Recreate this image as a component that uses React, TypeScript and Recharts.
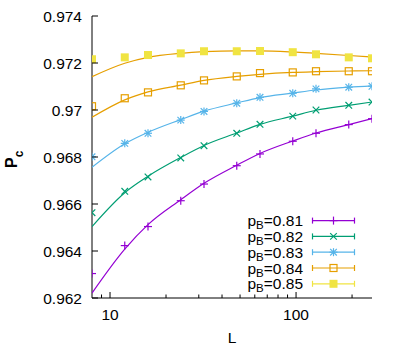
import React from 'react';
import { ComposedChart, Scatter, XAxis, YAxis, Legend } from 'recharts';

const L = [8, 12, 16, 24, 32, 48, 64, 96, 128, 192, 256];
const pBLabels = ['0.81', '0.82', '0.83', '0.84', '0.85'];

const p081 = [0.96304, 0.96423, 0.96504, 0.96614, 0.96685, 0.96763, 0.96813, 0.96867, 0.96901, 0.96938, 0.96963];
const p082 = [0.96563, 0.96654, 0.96715, 0.96796, 0.96848, 0.96901, 0.96939, 0.96974, 0.97000, 0.97020, 0.97034];
const p083 = [0.96801, 0.96858, 0.96901, 0.96957, 0.96994, 0.97029, 0.97054, 0.97071, 0.97090, 0.97097, 0.97101];
const p084 = [0.97016, 0.97050, 0.97075, 0.97105, 0.97126, 0.97143, 0.97157, 0.97160, 0.97165, 0.97165, 0.97165];
const p085 = [0.97216, 0.97224, 0.97234, 0.97241, 0.97250, 0.97250, 0.97251, 0.97246, 0.97237, 0.97224, 0.97220];

const fit081 = [0.96221, 0.96408, 0.96512, 0.96618, 0.96688, 0.96765, 0.96815, 0.96868, 0.96902, 0.96938, 0.96963];
const fit082 = [0.96504, 0.96648, 0.96718, 0.96798, 0.96849, 0.96902, 0.96939, 0.96974, 0.96999, 0.97020, 0.97034];
const fit083 = [0.96756, 0.96856, 0.96905, 0.96959, 0.96995, 0.97030, 0.97053, 0.97072, 0.97085, 0.97097, 0.97103];
const fit084 = [0.96969, 0.97043, 0.97077, 0.97106, 0.97126, 0.97143, 0.97152, 0.97160, 0.97163, 0.97166, 0.97167];
const fit085 = [0.97142, 0.97199, 0.97224, 0.97241, 0.97248, 0.97252, 0.97252, 0.97247, 0.97241, 0.97232, 0.97225];

const xTicks = [9, 10, 20, 30, 40, 50, 60, 70, 80, 90, 100, 200];
const xMajorTicks = [10, 100];
const yTicks = [0.962, 0.964, 0.966, 0.968, 0.97, 0.972, 0.974];

const FONT = '"Liberation Sans", Arial, Helvetica, sans-serif';

const colors = ['#9400d3', '#009e73', '#56b4e9', '#e69f00', '#f0e442'];
const fitColors = ['#9400d3', '#009e73', '#56b4e9', '#e69f00', '#e69f00'];
const markerKinds = ['plus', 'cross', 'star', 'openSquare', 'filledSquare'];

const pointSeries = [p081, p082, p083, p084, p085];
const fitSeries = [fit081, fit082, fit083, fit084, fit085];

const toRows = (vals: number[]) => L.map((l, i) => ({ L: l, P: vals[i] }));

function Marker({ kind, cx, cy, color }: { kind: string; cx: number; cy: number; color: string }) {
  const s = 4;
  if (kind === 'plus') {
    return (
      <g stroke={color} strokeWidth={1.2}>
        <line x1={cx - s} x2={cx + s} y1={cy} y2={cy} />
        <line x1={cx} x2={cx} y1={cy - s} y2={cy + s} />
      </g>
    );
  }
  if (kind === 'cross') {
    const d = 3.3;
    return (
      <g stroke={color} strokeWidth={1.2}>
        <line x1={cx - d} x2={cx + d} y1={cy - d} y2={cy + d} />
        <line x1={cx - d} x2={cx + d} y1={cy + d} y2={cy - d} />
      </g>
    );
  }
  if (kind === 'star') {
    const d = 3.3;
    return (
      <g stroke={color} strokeWidth={1.2}>
        <line x1={cx - s} x2={cx + s} y1={cy} y2={cy} />
        <line x1={cx} x2={cx} y1={cy - s} y2={cy + s} />
        <line x1={cx - d} x2={cx + d} y1={cy - d} y2={cy + d} />
        <line x1={cx - d} x2={cx + d} y1={cy + d} y2={cy - d} />
      </g>
    );
  }
  if (kind === 'openSquare') {
    return <rect x={cx - 3.5} y={cy - 3.5} width={7} height={7} fill="none" stroke={color} strokeWidth={1.2} />;
  }
  return <rect x={cx - 4} y={cy - 4} width={8} height={8} fill={color} />;
}

const makeShape = (kind: string, color: string) => (props: any) => {
  const { cx, cy } = props;
  if (cx == null || cy == null) return <g />;
  return <Marker kind={kind} cx={cx} cy={cy} color={color} />;
};

const emptyShape = () => <g />;

const fmtY = (v: number) => String(Number(v.toFixed(3)));

const XTickBottom = (props: any) => {
  const { x, y, payload } = props;
  const major = xMajorTicks.includes(payload.value);
  return (
    <g>
      <line x1={x} x2={x} y1={y} y2={y - (major ? 6 : 3.5)} stroke="#000" strokeWidth={1} />
      {major && (
        <text x={x} y={y + 22} textAnchor="middle" fontFamily={FONT} fontSize={15.5} fill="#000">
          {payload.value}
        </text>
      )}
    </g>
  );
};

const XTickTop = (props: any) => {
  const { x, y, payload } = props;
  const major = xMajorTicks.includes(payload.value);
  return <line x1={x} x2={x} y1={y} y2={y + (major ? 6 : 3.5)} stroke="#000" strokeWidth={1} />;
};

const YTickLeft = (props: any) => {
  const { x, y, payload } = props;
  return (
    <g>
      <line x1={x} x2={x + 6} y1={y} y2={y} stroke="#000" strokeWidth={1} />
      <text x={x - 10} y={y + 5.5} textAnchor="end" fontFamily={FONT} fontSize={15.5} fill="#000">
        {fmtY(payload.value)}
      </text>
    </g>
  );
};

const YTickRight = (props: any) => {
  const { x, y } = props;
  return <line x1={x} x2={x - 6} y1={y} y2={y} stroke="#000" strokeWidth={1} />;
};

const YLabel = () => (
  <text
    x={17}
    y={168}
    transform="rotate(-90, 17, 168)"
    fontFamily={FONT}
    fontWeight="bold"
    fontSize={16}
    fill="#000"
  >
    P
    <tspan fontSize={12} dy={6}>c</tspan>
  </text>
);

const XLabel = () => (
  <text x={232} y={343} textAnchor="middle" fontFamily={FONT} fontSize={15.5} fill="#000">
    L
  </text>
);

const LegendContent = () => (
  <svg width={400} height={350} style={{ position: 'absolute', left: 0, top: 0 }}>
    {pBLabels.map((lab, i) => {
      const y = 220.6 + i * 15.8;
      const c = colors[i];
      return (
        <g key={lab}>
          <text x={303} y={y + 5.5} textAnchor="end" fontFamily={FONT} fontSize={15.5} fill="#000">
            p<tspan fontSize={11.5} dy={3}>B</tspan>
            <tspan dy={-3}>={lab}</tspan>
          </text>
          <line x1={312} x2={355} y1={y} y2={y} stroke={c} strokeWidth={1.2} />
          <line x1={312.5} x2={312.5} y1={y - 3} y2={y + 3} stroke={c} strokeWidth={1.2} />
          <line x1={354.5} x2={354.5} y1={y - 3} y2={y + 3} stroke={c} strokeWidth={1.2} />
          <Marker kind={markerKinds[i]} cx={333.5} cy={y} color={c} />
        </g>
      );
    })}
  </svg>
);

export default function App() {
  return (
    <div style={{ position: 'absolute', left: 0, top: 0, width: 400, height: 350, background: '#fff' }}>
      <ComposedChart width={400} height={350} margin={{ top: 16, right: 28, bottom: 0, left: 0 }}>
        <XAxis
          xAxisId="b"
          dataKey="L"
          type="number"
          scale="log"
          domain={[8, 256]}
          allowDataOverflow
          ticks={xTicks}
          interval={0}
          height={52}
          tickSize={0}
          tickMargin={0}
          tick={XTickBottom}
          axisLine={{ stroke: '#000', strokeWidth: 1 }}
          label={<XLabel />}
        />
        <XAxis
          xAxisId="t"
          orientation="top"
          dataKey="L"
          type="number"
          scale="log"
          domain={[8, 256]}
          allowDataOverflow
          ticks={xTicks}
          interval={0}
          height={0}
          tickSize={0}
          tickMargin={0}
          tick={XTickTop}
          axisLine={{ stroke: '#000', strokeWidth: 1 }}
        />
        <YAxis
          yAxisId="l"
          type="number"
          domain={[0.962, 0.974]}
          allowDataOverflow
          ticks={yTicks}
          interval={0}
          width={92}
          tickSize={0}
          tickMargin={0}
          tick={YTickLeft}
          axisLine={{ stroke: '#000', strokeWidth: 1 }}
          label={<YLabel />}
        />
        <YAxis
          yAxisId="r"
          orientation="right"
          type="number"
          domain={[0.962, 0.974]}
          allowDataOverflow
          ticks={yTicks}
          interval={0}
          width={0}
          tickSize={0}
          tickMargin={0}
          tick={YTickRight}
          axisLine={{ stroke: '#000', strokeWidth: 1 }}
        />
        {fitSeries.map((vals, i) => (
          <Scatter
            key={'fit' + i}
            name={'fit ' + pBLabels[i]}
            xAxisId="b"
            yAxisId="l"
            data={toRows(vals)}
            dataKey="P"
            line={{ stroke: fitColors[i], strokeWidth: 1.2 }}
            lineJointType="monotoneX"
            shape={emptyShape}
            legendType="none"
            isAnimationActive={false}
          />
        ))}
        {pointSeries.map((vals, i) => (
          <Scatter
            key={'pts' + i}
            name={'pB=' + pBLabels[i]}
            xAxisId="b"
            yAxisId="l"
            data={toRows(vals)}
            dataKey="P"
            shape={makeShape(markerKinds[i], colors[i])}
            isAnimationActive={false}
          />
        ))}
        <Legend
          layout="horizontal"
          verticalAlign="middle"
          align="center"
          content={<LegendContent />}
          wrapperStyle={{ position: 'absolute', left: 0, top: 0, width: 400, height: 350, pointerEvents: 'none' }}
        />
      </ComposedChart>
    </div>
  );
}
